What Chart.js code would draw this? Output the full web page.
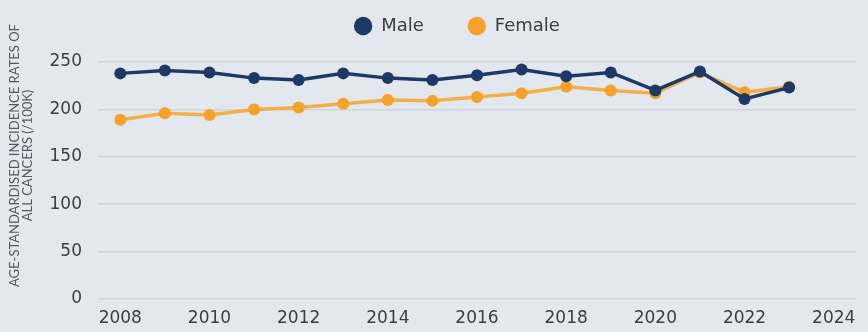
<!DOCTYPE html>
<html>
<head>
<meta charset="utf-8">
<script src="https://cdn.jsdelivr.net/npm/chart.js@4/dist/chart.umd.min.js"></script>
<style>
  html, body { margin: 0; padding: 0; background: #e3e8ef; }
  #wrap { width: 868px; height: 332px; position: relative; }
</style>
</head>
<body>
<div id="wrap"><canvas id="chart"></canvas></div>
<script>
// Year axis (last year left empty so the axis runs to 2024)
const years = [2008, 2009, 2010, 2011, 2012, 2013, 2014, 2015, 2016, 2017, 2018, 2019, 2020, 2021, 2022, 2023, 2024];

// Age-standardised incidence rates of all cancers per 100k
const maleRates   = [238, 241, 239, 233, 231, 238, 233, 231, 236, 242, 235, 239, 220, 240, 211, 223];
const femaleRates = [189, 196, 194, 200, 202, 206, 210, 209, 213, 217, 224, 220, 217, 239, 218, 224];

const yTicks = [0, 50, 100, 150, 200, 250];

const MALE = '#1d3a66';
const FEMALE = '#f5a12a';
const TEXT = '#3b3e43';
const TICK_FONT = '"DejaVu Sans", sans-serif';
const TITLE_FONT = 'Lato, sans-serif';

// Legend sits close to the top edge, slightly right of centre, with wide item gaps;
// the y-axis title is lifted a little above the plot's middle.
const layoutTweaks = {
  id: 'layoutTweaks',
  afterLayout(chart) {
    const lg = chart.legend;
    if (lg) {
      const dy = -27, dx = 26;
      lg.top += dy; lg.bottom += dy + 30;
      lg.left += dx; lg.right += dx;
    }
    const ys = chart.scales.y;
    if (ys && !ys.__titleLifted) {
      const orig = ys.drawTitle.bind(ys);
      ys.drawTitle = function () {
        const ctx = this.ctx;
        ctx.save();
        ctx.translate(0, -25);
        orig();
        ctx.restore();
      };
      ys.__titleLifted = true;
    }
  }
};

new Chart(document.getElementById('chart'), {
  type: 'line',
  data: {
    labels: years.map(String),
    datasets: [
      {
        label: 'Male',
        data: maleRates,
        borderColor: MALE,
        backgroundColor: MALE,
        borderWidth: 3.5,
        pointRadius: 6,
        pointHoverRadius: 6,
        pointBorderWidth: 0,
        tension: 0
      },
      {
        label: 'Female',
        data: femaleRates,
        borderColor: 'rgba(245, 166, 50, 0.88)',
        backgroundColor: FEMALE,
        borderWidth: 3.5,
        pointRadius: 6,
        pointHoverRadius: 6,
        pointBorderWidth: 0,
        tension: 0
      }
    ]
  },
  plugins: [layoutTweaks],
  options: {
    responsive: true,
    maintainAspectRatio: false,
    animation: false,
    layout: { padding: { left: 6, right: 12, top: 0, bottom: 0 } },
    plugins: {
      tooltip: { enabled: false },
      legend: {
        position: 'top',
        maxHeight: 62,
        labels: {
          usePointStyle: true,
          pointStyle: 'circle',
          boxWidth: 19,
          boxHeight: 13,
          padding: 44,
          color: TEXT,
          font: { family: TICK_FONT, size: 18 }
        }
      }
    },
    scales: {
      x: {
        type: 'category',
        offset: true,
        afterFit: function (axis) { axis.height = 33; },
        grid: { display: false, drawTicks: false },
        border: { display: false },
        ticks: {
          autoSkip: false,
          maxRotation: 0,
          padding: 9,
          color: TEXT,
          font: { family: TICK_FONT, size: 17 },
          callback: function (val, i) {
            const y = years[i];
            return y % 2 === 0 ? String(y) : '';
          }
        }
      },
      y: {
        min: 0,
        max: 250,
        afterFit: function (axis) { axis.width = 92; },
        afterBuildTicks: function (axis) {
          axis.ticks = yTicks.map(v => ({ value: v }));
        },
        grid: { color: '#cfd4db', lineWidth: 1.5, drawTicks: false },
        border: { display: false },
        ticks: {
          padding: 16,
          color: TEXT,
          font: { family: TICK_FONT, size: 17 }
        },
        title: {
          display: true,
          text: ['AGE-STANDARDISED INCIDENCE RATES OF', 'ALL CANCERS (/100K)'],
          color: '#55595f',
          font: { family: TITLE_FONT, size: 13, lineHeight: 1.0 },
          padding: { top: 2, bottom: 13 }
        }
      }
    }
  }
});
</script>
</body>
</html>
